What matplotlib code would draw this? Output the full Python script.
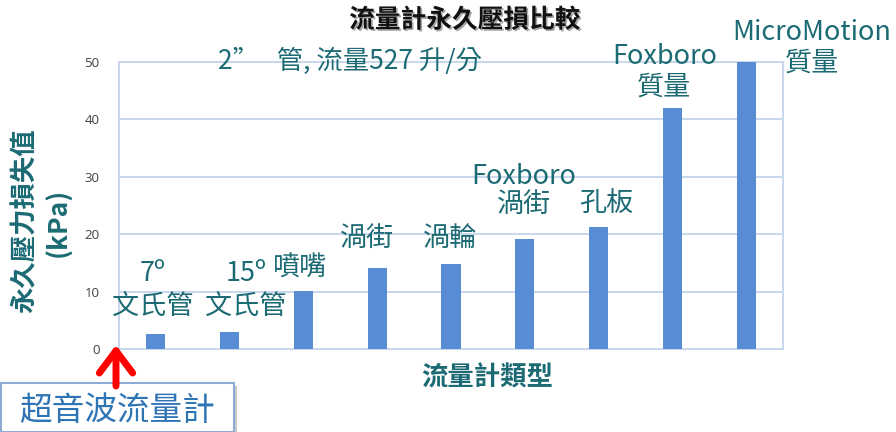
import matplotlib
matplotlib.use("Agg")
import matplotlib.pyplot as plt
from matplotlib.patches import Rectangle, FancyArrowPatch
import matplotlib.patheffects as pe

plt.rcParams['font.family'] = ['Noto Sans CJK TC', 'DejaVu Sans']

# ---- data ----
categories = ["7º 文氏管", "15º 文氏管", "噴嘴", "渦街", "渦輪",
              "Foxboro 渦街", "孔板", "Foxboro 質量", "MicroMotion 質量"]
values = [2.6, 3.0, 10.1, 14.1, 14.8, 19.2, 21.3, 42.0, 50.0]
yticks = [0, 10, 20, 30, 40, 50]
title = "流量計永久壓損比較"
subtitle = "2”   管, 流量527 升/分"
xlabel = "流量計類型"
ylabel_1 = "永久壓力損失值"
ylabel_2 = "(kPa)"
callout = "超音波流量計"

# label texts (lines) per bar, with placement (x in category units, y in data units)
bar_labels = [
    ("7º", -0.05, 13.1), ("文氏管", -0.05, 7.3),
    ("15º", 1.22, 13.1), ("文氏管", 1.22, 7.3),
    ("噴嘴", 1.95, 14.1),
    ("渦街", 2.86, 19.2),
    ("渦輪", 3.99, 19.2),
    ("Foxboro", 4.99, 30.1), ("渦街", 4.99, 25.1),
    ("孔板", 6.11, 25.3),
    ("Foxboro", 6.89, 50.9), ("質量", 6.89, 45.6),
    ("MicroMotion", 8.89, 55.2), ("質量", 8.89, 49.9),
]

W, H = 896, 432
TEAL = "#1b6a74"
BAR = "#588dd5"
GRID = "#c8d7ec"

fig = plt.figure(figsize=(W / 100, H / 100), dpi=100)
fig.patch.set_facecolor("white")

def fx(x):
    return x / W

def fy(y):
    return 1 - y / H

ax = fig.add_axes([fx(119), fy(349), (783 - 119) / W, (349 - 62) / H])
x = list(range(len(categories)))
ax.bar(x, values, width=0.26, color=BAR, zorder=3)
ax.set_xlim(-0.5, len(categories) - 0.5)
ax.set_ylim(0, 50)
ax.set_yticks(yticks)
ax.set_yticklabels([str(v) for v in yticks], fontsize=9.5, color="#404040",
                   family=['Open Sans', 'DejaVu Sans'])
ax.set_xticks([])
ax.tick_params(axis='y', length=0, pad=14)
ax.grid(axis='y', color=GRID, lw=1.4, zorder=0)
for s in ax.spines.values():
    s.set_color(GRID)
    s.set_linewidth(1.4)

for txt, xx, yy in bar_labels:
    ax.text(xx, yy, txt, ha='center', va='center', fontsize=19.5, color=TEAL,
            clip_on=False, zorder=5)

# titles
fig.text(fx(465), fy(20), title, ha='center', va='center', fontsize=18.5,
         fontweight='bold', color="#111111",
         path_effects=[pe.withSimplePatchShadow(offset=(1.2, -1.2), alpha=0.35)])
fig.text(fx(350), fy(61), subtitle, ha='center', va='center', fontsize=19,
         color=TEAL, zorder=10)
fig.text(fx(487), fy(378), xlabel, ha='center', va='center', fontsize=19,
         fontweight='bold', color=TEAL)
fig.text(fx(25), fy(221), ylabel_1, ha='center', va='center', fontsize=19,
         fontweight='bold', color=TEAL, rotation=90)
fig.text(fx(59), fy(222), ylabel_2, ha='center', va='center', fontsize=19,
         fontweight='bold', color=TEAL, rotation=90)

# callout box
box = Rectangle((fx(1), 0), fx(233), (432 - 383) / H, transform=fig.transFigure,
                facecolor="white", edgecolor="#8eaad6", lw=1.5,
                path_effects=[pe.withSimplePatchShadow(offset=(2, -2), alpha=0.3)])
fig.add_artist(box)
fig.text(fx(117), fy(411), callout, ha='center', va='center', fontsize=23.5,
         color="#2f75b5")

# red arrow
fig.add_artist(FancyArrowPatch(
    (fx(116), fy(386)), (fx(116), fy(345)), transform=fig.transFigure,
    arrowstyle='->,head_length=0.8,head_width=0.6', lw=5, color="#ff0000",
    mutation_scale=20, shrinkA=0, shrinkB=0))

fig.savefig("out.png", dpi=100)
